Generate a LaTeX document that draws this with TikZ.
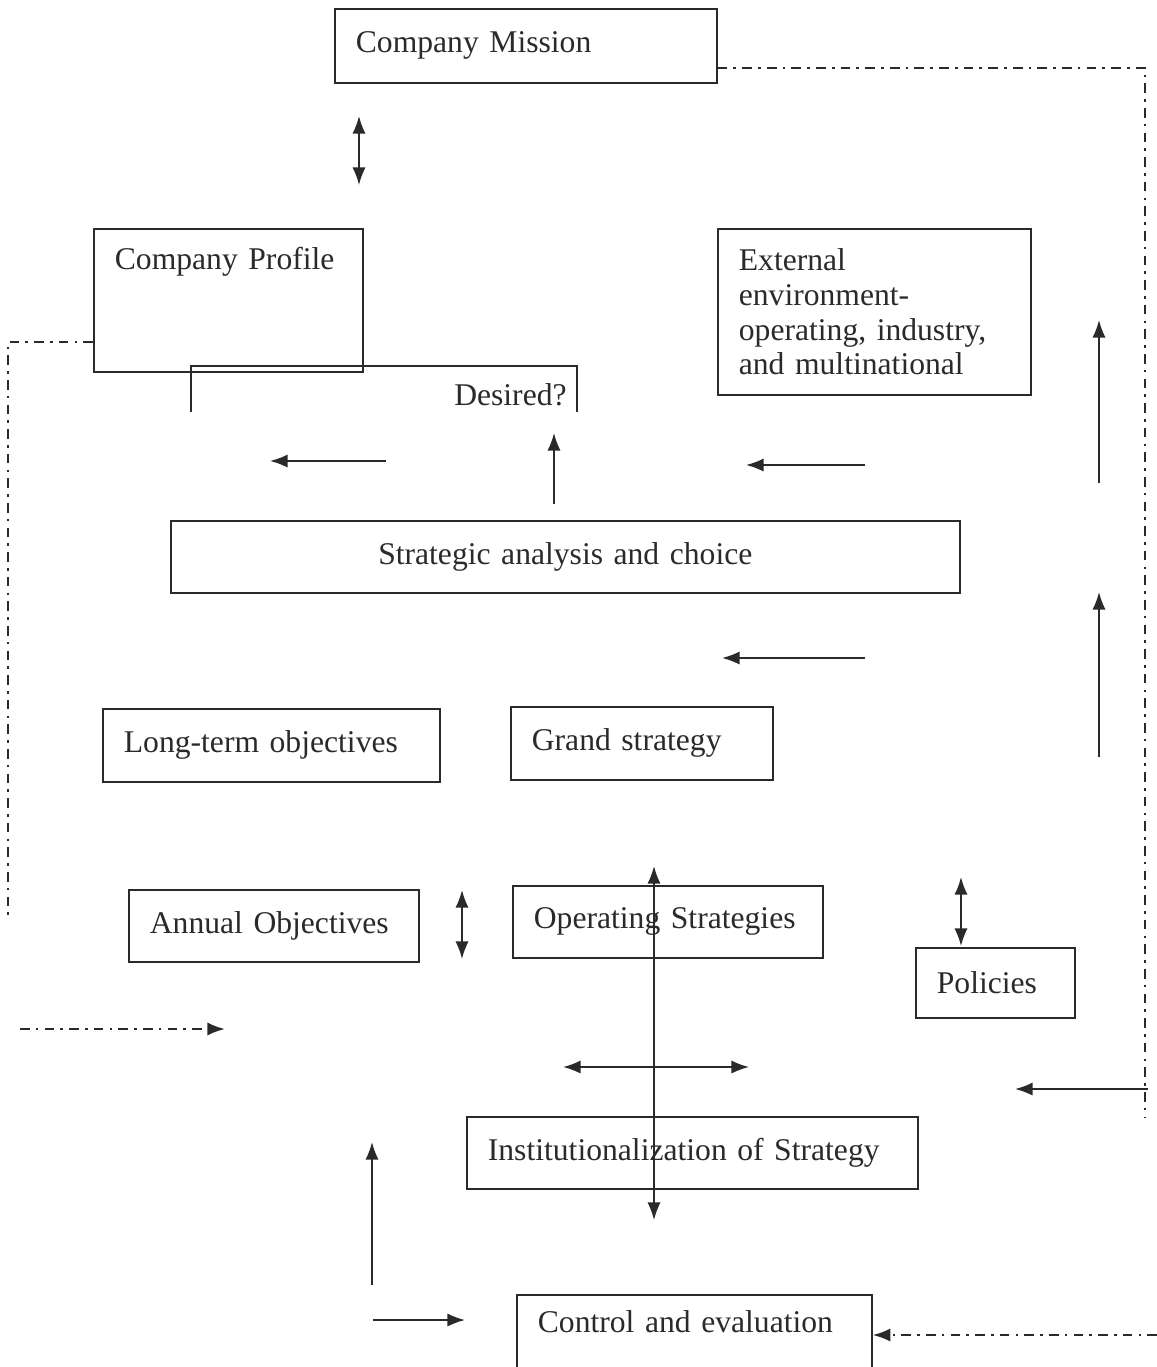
\documentclass[tikz,border=0pt]{standalone}
\usepackage{fontspec}
\setmainfont{Liberation Serif}
\usetikzlibrary{arrows.meta}
\definecolor{ink}{HTML}{2A2A2A}
\tikzset{
	box/.style={draw=ink, line width=1pt, anchor=north west, inner xsep=0.42cm, inner ysep=0pt, align=left, text=ink, font=\fontsize{18}{19.8}\selectfont},
	lbl/.style={inner sep=0pt, text=ink, font=\fontsize{18}{19.8}\selectfont},
	tip/.style={-{Latex[length=10pt,width=7.5pt]}},
	arr/.style={draw=ink, line width=1pt, tip},
	darr/.style={draw=ink, line width=1pt, {Latex[length=10pt,width=7.5pt]}-{Latex[length=10pt,width=7.5pt]}},
	dashdot/.style={draw=ink, line width=1.3pt, dash pattern=on 5.5pt off 3.5pt on 1.5pt off 3.5pt},
}
\begin{document}
\begin{tikzpicture}[x=0.02cm, y=-0.02cm]
	\path[use as bounding box, clip] (0,0) rectangle (1157,1367);
	
	% boxes
	\node[box, text width=6.80cm, minimum height=1.48cm] (mission) at (334,8) {Company Mission};
	\node[box, text width=4.54cm, text height=0.82cm, text depth=2.04cm] (profile) at (93,228) {Company Profile};
	\node[box, text width=5.42cm, minimum height=3.32cm] (external) at (717,228) {External\\environment-\\operating, industry,\\and multinational};
	\node[box, text width=14.94cm, minimum height=1.44cm, align=center] (strategic) at (170,520) {Strategic analysis and choice};
	\node[box, text width=5.90cm, minimum height=1.46cm] (longterm) at (102,708) {Long-term objectives};
	\node[box, text width=4.40cm, minimum height=1.46cm] (grand) at (510,706) {Grand strategy};
	\node[box, text width=4.96cm, minimum height=1.44cm] (annual) at (128,889) {Annual Objectives};
	\node[box, text width=5.36cm, minimum height=1.44cm] (operating) at (512,885) {Operating Strategies};
	\node[box, text width=2.34cm, minimum height=1.40cm] (policies) at (915,947) {Policies};
	\node[box, text width=8.18cm, minimum height=1.44cm] (inst) at (466,1116) {Institutionalization of Strategy};
	\node[box, text width=6.26cm, text height=0.76cm, text depth=1.24cm] (control) at (516,1294) {Control and evaluation};
	
	% desired bracket
	\draw[ink, line width=1pt] (191,412) -- (191,366) -- (577,366) -- (577,412);
	\node[lbl, anchor=base east] (desired) at (567,405) {Desired?};
	
	% arrows
	\foreach \xa/\ya/\xb/\yb in {386/461/270/461, 554/504/554/433, 865/465/746/465, 1099/483/1099/320,
		865/658/722/658, 1099/757/1099/592, 1148/1089/1015/1089, 372/1285/372/1142, 373/1320/465/1320}{
		\draw[arr] (\xa,\ya) -- (\xb,\yb);
	};
	\foreach \xa/\ya/\xb/\yb in {359/116/359/185, 462/890/462/959, 654/866/654/1220,
		563/1067/749/1067, 961/877/961/946}{
		\draw[darr] (\xa,\ya) -- (\xb,\yb);
	};
	
	% feedback lines
	\coordinate (fbtop) at (1145,68);
	\coordinate (fbleft) at (8,342);
	\coordinate (fbbot) at (1157,1335);
	\coordinate (fbin) at (20,1029);
	\draw[dashdot] (fbtop -| mission.east) -- (fbtop) -- (1145,1117);
	\draw[dashdot] (fbleft -| profile.west) -- (fbleft) -- (8,915);
	\draw[dashdot, tip] (fbbot) -- (fbbot -| control.east);
	\draw[dashdot, tip] (fbin) -- (225,1029);
\end{tikzpicture}
\end{document}
